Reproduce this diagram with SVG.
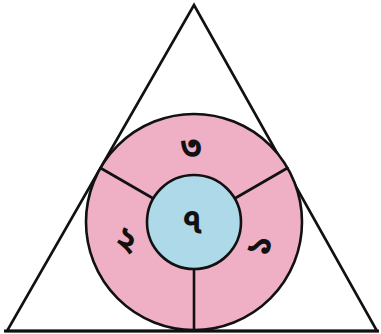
<svg xmlns="http://www.w3.org/2000/svg" width="381" height="334" viewBox="0 0 381 334">
<style>
.ln{stroke:#111;stroke-width:2.6;fill:none;stroke-linecap:round;stroke-linejoin:miter}
.lbl{font-family:"Noto Sans Bengali","Noto Sans","DejaVu Sans",sans-serif;font-size:34px;font-weight:bold;fill:#111;text-anchor:middle;dominant-baseline:central}
</style>
<rect width="381" height="334" fill="#fff"/>
<g id="triangle">
<polygon points="194,5 7,331 377,331" class="ln" stroke-width="2.8"/>
</g>
<g id="outer-ring">
<circle cx="194" cy="222" r="108" class="ln" style="fill:#EFAFC5"/>
</g>
<g id="connectors">
<line x1="194" y1="269" x2="194" y2="330" class="ln"/>
<line x1="153.3" y1="198.5" x2="100.5" y2="168" class="ln"/>
<line x1="234.7" y1="198.5" x2="287.5" y2="168" class="ln"/>
</g>
<g id="inner-circle">
<circle cx="194" cy="222" r="47" class="ln" style="fill:#ADD9E9"/>
<text x="192" y="224" class="lbl">৭</text>
</g>
<g id="sector-top"><text x="191" y="150" class="lbl">৩</text></g>
<g id="sector-left"><text x="126" y="242" class="lbl" transform="rotate(20 126 242)">২</text></g>
<g id="sector-right"><text x="262" y="246" class="lbl" transform="rotate(-75 262 246)">১</text></g>
<line x1="4" y1="331" x2="379" y2="331" stroke="#111" stroke-width="3"/>
</svg>
